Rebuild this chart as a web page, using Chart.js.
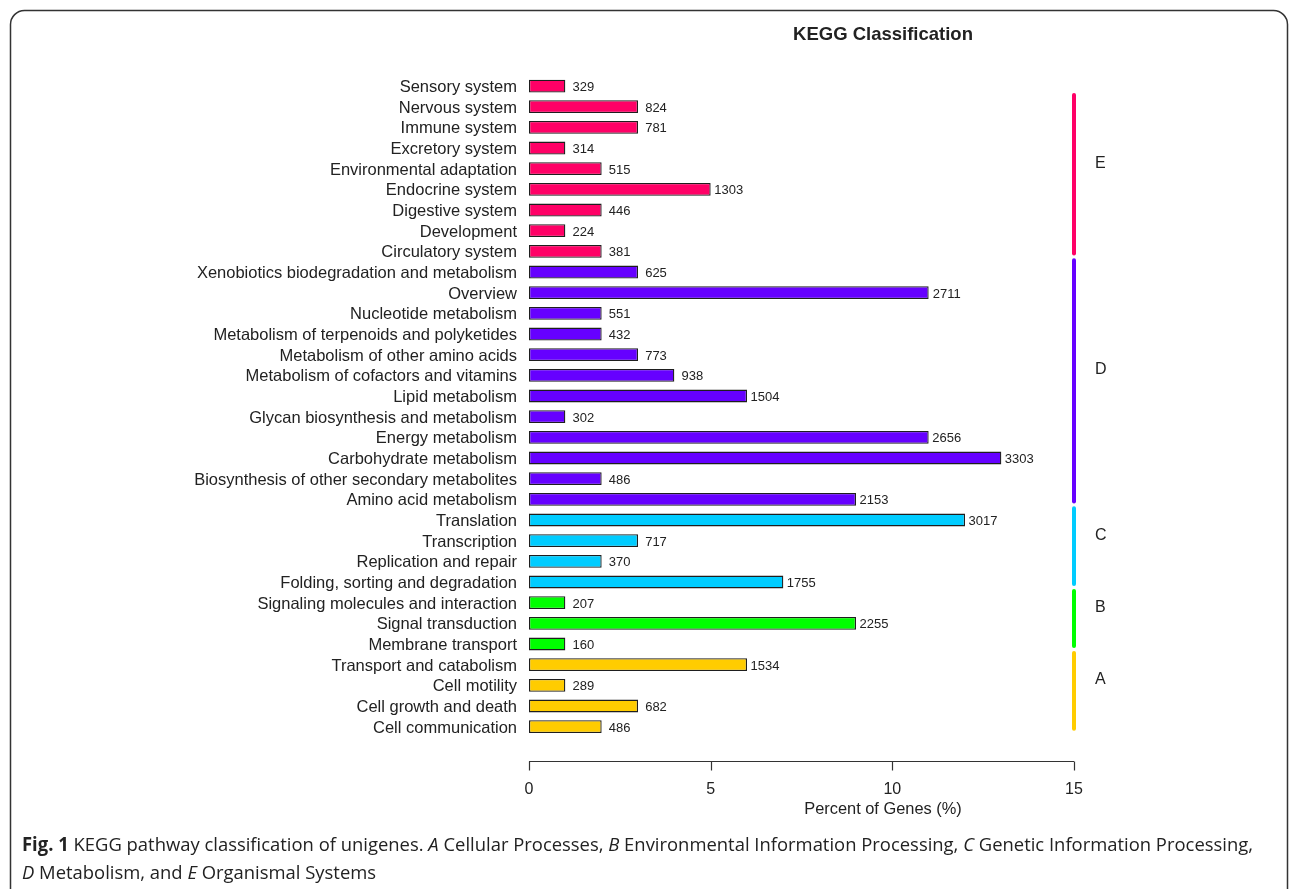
<!DOCTYPE html>
<html lang="en">
	<head>
		<meta charset="UTF-8" />
		<title>KEGG Classification</title>
		<script src="https://cdn.jsdelivr.net/npm/chart.js@4.4.1/dist/chart.umd.min.js"></script>
		<style>
			body { margin: 0; background: #fff; }
			#wrap { width: 1290px; height: 889px; position: relative; }
		</style>
	</head>
	<body>
		<div id="wrap"><canvas id="kegg"></canvas></div>

		<script>
			// categories, top to bottom
			const categories = [
				"Sensory system", "Nervous system", "Immune system", "Excretory system",
				"Environmental adaptation", "Endocrine system", "Digestive system", "Development",
				"Circulatory system", "Xenobiotics biodegradation and metabolism", "Overview",
				"Nucleotide metabolism", "Metabolism of terpenoids and polyketides",
				"Metabolism of other amino acids", "Metabolism of cofactors and vitamins",
				"Lipid metabolism", "Glycan biosynthesis and metabolism", "Energy metabolism",
				"Carbohydrate metabolism", "Biosynthesis of other secondary metabolites",
				"Amino acid metabolism", "Translation", "Transcription", "Replication and repair",
				"Folding, sorting and degradation", "Signaling molecules and interaction",
				"Signal transduction", "Membrane transport", "Transport and catabolism",
				"Cell motility", "Cell growth and death", "Cell communication",
			];
			const percents = [1, 3, 3, 1, 2, 5, 2, 1, 2, 3, 11, 2, 2, 3, 4, 6, 1, 11, 13, 2, 9, 12, 3, 2, 7, 1, 9, 1, 6, 1, 3, 2];
			const geneCounts = [329, 824, 781, 314, 515, 1303, 446, 224, 381, 625, 2711, 551, 432, 773, 938, 1504, 302, 2656, 3303, 486, 2153, 3017, 717, 370, 1755, 207, 2255, 160, 1534, 289, 682, 486];
			const barGroup = ["E","E","E","E","E","E","E","E","E","D","D","D","D","D","D","D","D","D","D","D","D","C","C","C","C","B","B","B","A","A","A","A"];

			const groupNames = ["E", "D", "C", "B", "A"];
			const groupColors = { E: "#ff0066", D: "#6600ff", C: "#00ccff", B: "#00ff00", A: "#ffcc00" };
			const xTicks = [0, 5, 10, 15];

			const FONT = "'Liberation Sans', Arial, sans-serif";

			const extras = {
				id: "extras",
				afterDraw(chart) {
					const { ctx, scales: { x, y } } = chart;
					const band = y.getPixelForValue(1) - y.getPixelForValue(0);
					ctx.save();

					// frame
					ctx.strokeStyle = "#333";
					ctx.lineWidth = 1.5;
					ctx.beginPath();
					ctx.roundRect(10.5, 10.5, 1277, 920, 14);
					ctx.stroke();

					// bar value labels
					ctx.fillStyle = "#222";
					ctx.font = "13px " + FONT;
					ctx.textAlign = "center";
					ctx.textBaseline = "middle";
					geneCounts.forEach((v, i) => {
						ctx.fillText(String(v), x.getPixelForValue(percents[i]) + 18, y.getPixelForValue(i) + 1.5);
					});

					// bottom axis, R style
					const axisY = 761.5;
					ctx.strokeStyle = "#333";
					ctx.lineWidth = 1.2;
					ctx.beginPath();
					ctx.moveTo(x.getPixelForValue(0), axisY);
					ctx.lineTo(x.getPixelForValue(15), axisY);
					xTicks.forEach((t) => {
						const px = Math.round(x.getPixelForValue(t)) + 0.5;
						ctx.moveTo(px, axisY);
						ctx.lineTo(px, axisY + 9);
					});
					ctx.stroke();

					// axis title and chart title
					ctx.fillStyle = "#222";
					ctx.font = "16.4px " + FONT;
					ctx.fillText("Percent of Genes (%)", 883, 809);
					ctx.font = "bold 18.5px " + FONT;
					ctx.fillText("KEGG Classification", 883, 35);

					// group brackets on the right
					const gx = x.getPixelForValue(15);
					groupNames.forEach((g) => {
						const first = barGroup.indexOf(g);
						const last = barGroup.lastIndexOf(g);
						let top = y.getPixelForValue(first) - 0.57 * band;
						if (first === 0) top = y.getPixelForValue(first) + 0.43 * band;
						const bottom = y.getPixelForValue(last) + 0.1 * band;
						ctx.strokeStyle = groupColors[g];
						ctx.lineWidth = 4;
						ctx.lineCap = "round";
						ctx.beginPath();
						ctx.moveTo(gx, top);
						ctx.lineTo(gx, bottom);
						ctx.stroke();
						ctx.fillStyle = "#222";
						ctx.font = "16px " + FONT;
						ctx.textAlign = "left";
						ctx.fillText(g, gx + 21, (top + bottom) / 2 - 11);
					});

					// caption
					const lines = [
						[["Fig. 1", "bold"], [" KEGG pathway classification of unigenes. ", ""], ["A", "italic"], [" Cellular Processes, ", ""], ["B", "italic"], [" Environmental Information Processing, ", ""], ["C", "italic"], [" Genetic Information Processing,", ""]],
						[["D", "italic"], [" Metabolism, and ", ""], ["E", "italic"], [" Organismal Systems", ""]],
					];
					const capFont = (s) => (s ? s + " " : "") + "19px 'Open Sans', sans-serif";
					let w1 = 0;
					lines[0].forEach(([t, s]) => { ctx.font = capFont(s); w1 += ctx.measureText(t).width; });
					const sx = 1231 / w1;
					ctx.textAlign = "left";
					ctx.textBaseline = "alphabetic";
					ctx.fillStyle = "#222";
					[851, 879].forEach((by, li) => {
						ctx.save();
						ctx.translate(22, by);
						ctx.scale(sx, 1);
						let cx = 0;
						lines[li].forEach(([t, s]) => {
							ctx.font = capFont(s);
							ctx.fillText(t, cx, 0);
							cx += ctx.measureText(t).width;
						});
						ctx.restore();
					});

					ctx.restore();
				},
			};

			new Chart(document.getElementById("kegg"), {
				type: "bar",
				data: {
					labels: categories,
					datasets: [
						{
							data: percents,
							backgroundColor: barGroup.map((g) => groupColors[g]),
							borderColor: "#1e1e1e",
							borderWidth: 1.3,
							borderSkipped: false,
							categoryPercentage: 1,
							barPercentage: 0.62,
						},
					],
				},
				options: {
					indexAxis: "y",
					responsive: true,
					maintainAspectRatio: false,
					animation: false,
					layout: { padding: { left: 0, right: 216, top: 75.7, bottom: 0 } },
					plugins: { legend: { display: false }, tooltip: { enabled: false }, title: { display: false } },
					scales: {
						x: {
							min: 0,
							max: 15,
							grid: { display: false, drawTicks: false },
							border: { display: false },
							ticks: { stepSize: 5, padding: 43, color: "#222", font: { family: FONT, size: 16 } },
							afterFit: (scale) => { scale.height = 152; },
						},
						y: {
							grid: { display: false, drawTicks: false },
							border: { display: false },
							ticks: { autoSkip: false, padding: 12, labelOffset: 1.5, color: "#222", font: { family: FONT, size: 16.5 } },
							afterFit: (scale) => { scale.width = 529; },
						},
					},
				},
				plugins: [extras],
			});
		</script>
	</body>
</html>
